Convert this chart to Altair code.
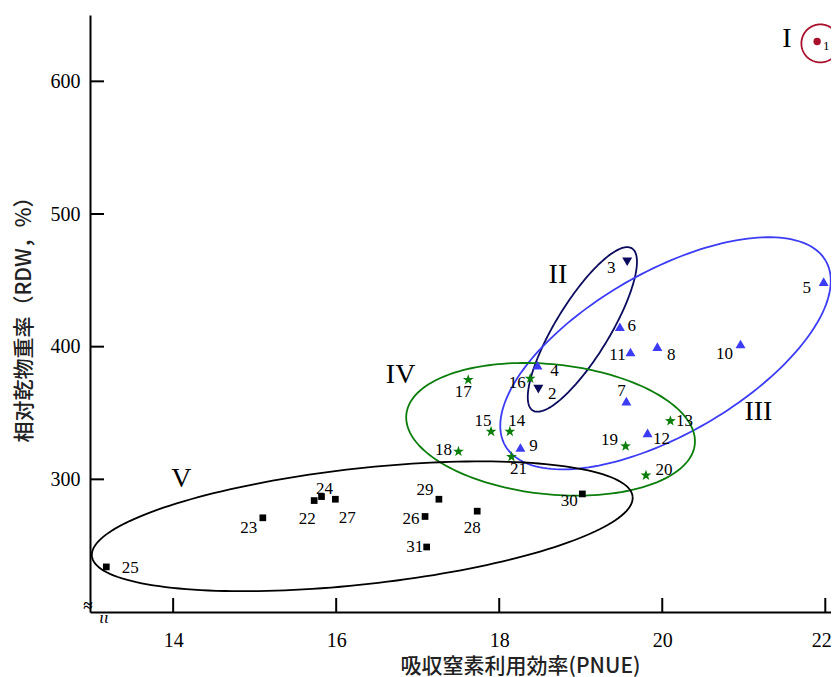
import numpy as np
import pandas as pd
import altair as alt

# ---------------- data ----------------
ids = list(range(1, 32))
pnue = [21.90, 18.48, 19.57, 18.47, 21.98, 19.48, 19.56, 19.94, 18.26, 20.96,
        19.61, 19.82, 20.10, 18.13, 17.90, 18.38, 17.62, 17.50, 19.55, 19.80,
        18.15, 15.73, 15.10, 15.82, 13.18, 17.09, 15.99, 17.73, 17.26, 19.02,
        17.11]
rdw = [630, 368, 464, 386, 449, 415, 359, 400, 324, 402,
       396, 335, 344, 336, 336, 376, 375, 321, 325, 303,
       317, 284, 271, 287, 234, 272, 285, 276, 285, 289,
       249]
groups = (["I"] + ["II"] * 2 + ["III"] * 9 + ["IV"] * 9 + ["V"] * 10)
# pixel offset of each number label relative to its marker (layout)
label_dx = [9, 14, -16, 17, -17, 12, -5, 14, 13, -16, -13, 14, 14, 7, -8, -13,
            -5, -15, -16, 18, 7, -7, -14, 3, 24, -14, 12, -5, -14, -13, -12]
label_dy = [4, 5, 6, 6, 6, -1, -10, 8, -1, 10, 3, 6, 0, -11, -11, 4, 12, -1,
            -6, -5, 12, 18, 10, -8, 1, 3, 19, 17, -9, 7, 0]

group_names = ["I", "II", "III", "IV", "V"]
group_colors = ["#a8102c", "#0b0b5e", "#3c3cf5", "#0a7d0a", "#000000"]
group_shapes = ["circle", "triangle-down", "triangle-up",
                "M0,-1L0.235,-0.324L0.951,-0.309L0.38,0.124L0.588,0.809L0,0.4L-0.588,0.809L-0.38,0.124L-0.951,-0.309L-0.235,-0.324Z",
                "square"]
group_sizes = [55, 100, 100, 130, 45]

# group label (roman numerals) positions
roman_text = ["I", "II", "III", "IV", "V"]
roman_x = [21.53, 18.72, 21.18, 16.79, 14.10]
roman_y = [631.6, 453.7, 350.5, 378.4, 300.0]

# ellipse parameters: centre (data), semi axes (px), angle (deg)
ell_group = ["I", "II", "III", "IV", "V"]
ell_cx = [21.94, 19.02, 20.04, 18.63, 16.32]
ell_cy = [628.6, 413.0, 395.0, 337.7, 264.6]
ell_a = [19, 95, 185, 145, 272]
ell_b = [19, 27, 81, 65, 58]
ell_ang = [0, 58.6, 30, -5.9, 6.3]

x_ticks = [14, 16, 18, 20, 22]
y_ticks = [300, 400, 500, 600]

X_DOMAIN = [12.98, 22.07]
Y_DOMAIN = [200, 650]
W, H = 741, 597
ppx = W / (X_DOMAIN[1] - X_DOMAIN[0])
ppy = H / (Y_DOMAIN[1] - Y_DOMAIN[0])

# ---------------- tables ----------------
pts = pd.DataFrame({"id": ids, "x": pnue, "y": rdw, "g": groups})
pts["sz"] = pts["g"].map(dict(zip(group_names, group_sizes)))
labs = pd.DataFrame({
    "x": pts["x"] + np.array(label_dx) / ppx,
    "y": pts["y"] - np.array(label_dy) / ppy,
    "lab": pts["id"].astype(str),
    "fs": [13] + [17] * 30,
})

rows = []
t = np.linspace(0, 2 * np.pi, 181)
for g, cx, cy, a, b, ang in zip(ell_group, ell_cx, ell_cy, ell_a, ell_b, ell_ang):
    th = np.deg2rad(ang)
    u = a * np.cos(t) * np.cos(th) - b * np.sin(t) * np.sin(th)
    v = a * np.cos(t) * np.sin(th) + b * np.sin(t) * np.cos(th)
    for i, (uu, vv) in enumerate(zip(u, v)):
        rows.append({"g": g, "i": i, "x": cx + uu / ppx, "y": cy + vv / ppy})
ell = pd.DataFrame(rows)

roman = pd.DataFrame({"t": roman_text, "x": roman_x, "y": roman_y})

xs = alt.Scale(domain=X_DOMAIN, nice=False, zero=False)
ys = alt.Scale(domain=Y_DOMAIN, nice=False, zero=False)
col = alt.Scale(domain=group_names, range=group_colors)
shp = alt.Scale(domain=group_names, range=group_shapes)

SERIF = "Liberation Serif"
CJK = "Noto Sans CJK JP"
XTITLE = "吸収窒素利用効率(PNUE)"
YTITLE = "相对乾物重率（RDW，%）"

AXX = alt.Axis(
    values=x_ticks, tickSize=0, labelPadding=18, labelFont=SERIF, labelFontSize=20,
    labelColor="#000", domainColor="#000", domainWidth=2, grid=False,
    labelFlush=8, labelFlushOffset=6,
    title=XTITLE, titleFont=CJK, titleFontSize=21,
    titleFontWeight=500, titleColor="#222", titleX=430, titleY=54,
    titleAlign="center", titleBaseline="middle")
AXY = alt.Axis(
    values=y_ticks, tickSize=0, labelPadding=10, labelFont=SERIF, labelFontSize=20,
    labelColor="#000", domainColor="#000", domainWidth=2, grid=False,
    title=YTITLE, titleFont=CJK, titleFontSize=21,
    titleFontWeight=500, titleColor="#222", titleX=-66, titleY=299,
    titleAlign="center", titleBaseline="middle")


def X(f="x"):
    return alt.X(f + ":Q", scale=xs, axis=AXX, title=XTITLE)


def Y(f="y"):
    return alt.Y(f + ":Q", scale=ys, axis=AXY, title=YTITLE)


xtick = alt.Chart(pd.DataFrame({"x": x_ticks})).mark_rule(color="#000", strokeWidth=2).encode(
    x=X(), y=alt.value(H), y2=alt.value(H - 14))
ytick = alt.Chart(pd.DataFrame({"y": y_ticks})).mark_rule(color="#000", strokeWidth=2).encode(
    y=Y(), x=alt.value(0), x2=alt.value(14))

ellipses = alt.Chart(ell).mark_line(strokeWidth=1.8, clip=False).encode(
    x=X(), y=Y(), detail="g:N", order="i:Q",
    color=alt.Color("g:N", scale=col, legend=None))

points = alt.Chart(pts).mark_point(filled=True, opacity=1, clip=False).encode(
    x=X(), y=Y(),
    color=alt.Color("g:N", scale=col, legend=None),
    shape=alt.Shape("g:N", scale=shp, legend=None),
    size=alt.Size("sz:Q", scale=None, legend=None))

labels = alt.Chart(labs).mark_text(font=SERIF, color="#000", clip=False).encode(
    x=X(), y=Y(), text="lab:N", size=alt.Size("fs:Q", scale=None, legend=None))

romans = alt.Chart(roman).mark_text(font=SERIF, fontSize=28, color="#000").encode(
    x=X(), y=Y(), text="t:N")

brk1 = alt.Chart(pd.DataFrame({"t": ["≈"]})).mark_text(font=SERIF, fontSize=17, color="#000", fontWeight="bold").encode(
    x=alt.value(-2), y=alt.value(H - 6), text="t:N")
brk2 = alt.Chart(pd.DataFrame({"t": ["ιι"]})).mark_text(font=SERIF, fontSize=17, fontStyle="italic", color="#000").encode(
    x=alt.value(14), y=alt.value(H + 6), text="t:N")

chart = alt.layer(ellipses, xtick, ytick, points, labels, romans, brk1, brk2).properties(
    width=W, height=H,
    padding={"left": 82, "top": 7, "right": 0, "bottom": 70},
    autosize=alt.AutoSizeParams(type="none"),
).configure_view(stroke=None)

chart.save("out.html", embed_options={"renderer": "svg", "actions": False})
